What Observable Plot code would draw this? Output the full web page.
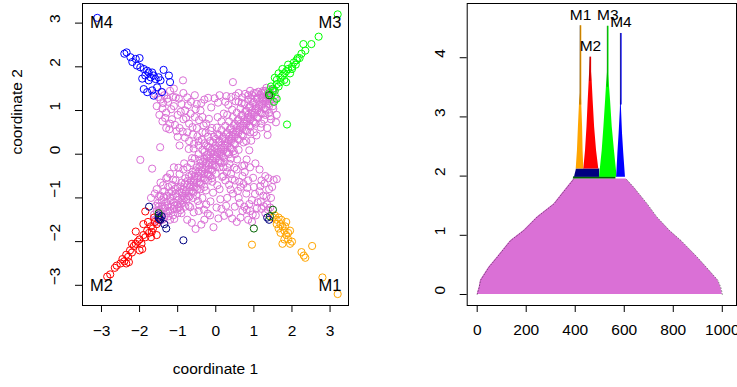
<!DOCTYPE html>
<html>
<head>
<meta charset="utf-8">
<script src="https://cdn.jsdelivr.net/npm/d3@7"></script>
<script src="https://cdn.jsdelivr.net/npm/@observablehq/plot@0.6"></script>
<style>
  html, body { margin: 0; padding: 0; background: white; }
  #wrap { position: relative; width: 737px; height: 387px; overflow: hidden; font-family: "Liberation Sans", Arial, sans-serif; }
  #wrap svg { position: absolute; top: 0; }
</style>
</head>
<body>
<div id="wrap"></div>
<script>
// ---------- Left panel: scatter (coordinate 1 vs coordinate 2) ----------
const pinkPts = [
[-1.6,-1.5],[-1.55,-1.3],[-1.5,-1.2],[-1.45,-1.35],[-1.42,-1.05],[-1.38,-1.25],[-1.35,-1.45],[-1.3,-1.1],[-1.28,-0.95],[-1.25,-1.3],[-1.2,-1.0],[-1.18,-1.2],[-1.15,-0.85],[-1.12,-1.4],[-1.1,-1.1],[-1.05,-0.9],[-1.02,-1.25],[-1.0,-0.75],[-0.98,-1.05],[-0.95,-0.85],[-0.92,-1.15],[-0.9,-0.65],[-0.88,-0.95],[-0.85,-0.8],[-0.82,-1.0],[-0.8,-0.55],[-0.78,-0.85],[-0.75,-0.7],[-0.72,-0.95],[-0.7,-0.5],[-0.68,-0.75],[-0.65,-0.6],[-0.62,-0.85],[-0.6,-0.4],[-0.58,-0.65],[-0.55,-0.5],[-0.52,-0.75],[-0.5,-0.3],[-0.48,-0.55],[-0.45,-0.4],[-0.42,-0.65],[-0.4,-0.2],[-0.38,-0.45],[-0.35,-0.3],[-0.32,-0.55],[-0.3,-0.1],[-0.28,-0.35],[-0.25,-0.2],[-0.22,-0.45],[-0.2,0.0],[-0.18,-0.25],[-0.15,-0.1],[-0.12,-0.35],[-0.1,0.1],[-0.08,-0.15],[-0.05,0.0],[-0.02,-0.25],[0.0,0.2],[0.02,-0.05],[0.05,0.1],[0.08,-0.15],[0.1,0.3],[0.12,0.05],[0.15,0.2],[0.18,-0.05],[0.2,0.4],[0.22,0.15],[0.25,0.3],[0.28,0.05],[0.3,0.5],[0.32,0.25],[0.35,0.4],[0.38,0.15],[0.4,0.6],[0.42,0.35],[0.45,0.5],[0.48,0.25],[0.5,0.7],[0.52,0.45],[0.55,0.6],[0.58,0.35],[0.6,0.8],[0.62,0.55],[0.65,0.7],[0.68,0.45],[0.7,0.9],[0.72,0.65],[0.75,0.8],[0.78,0.55],[0.8,1.0],[0.82,0.75],[0.85,0.9],[0.88,0.65],[0.9,1.1],[0.92,0.85],[0.95,1.0],[0.98,0.75],[1.0,1.2],[1.02,0.95],[1.05,1.1],[1.08,0.85],[1.1,1.3],[1.12,1.05],[1.15,1.2],[1.18,0.95],[1.2,1.4],[1.22,1.15],[1.25,1.3],[1.28,1.05],[1.3,1.45],[1.32,1.25],[1.35,1.35],[1.38,1.15],[1.42,1.4],[1.45,1.3],[1.48,1.45],
[-1.5,-1.55],[-1.4,-1.5],[-1.3,-1.35],[-1.2,-1.3],[-1.1,-1.25],[-1.0,-1.15],[-0.9,-1.05],[-0.8,-0.9],[-0.7,-0.85],[-0.6,-0.75],[-0.5,-0.65],[-0.4,-0.55],[-0.3,-0.45],[-0.2,-0.35],[-0.1,-0.25],[0.0,-0.1],[0.1,0.0],[0.2,0.1],[0.3,0.2],[0.4,0.3],[0.5,0.4],[0.6,0.5],[0.7,0.6],[0.8,0.7],[0.9,0.8],[1.0,0.9],[1.1,1.0],[1.2,1.1],[1.3,1.2],[1.4,1.3],
[-1.45,-0.95],[-1.35,-0.85],[-1.25,-0.75],[-1.15,-0.7],[-1.05,-0.6],[-0.95,-0.45],[-0.85,-0.35],[-0.75,-0.3],[-0.65,-0.2],[-0.55,-0.1],[-0.45,0.0],[-0.35,0.1],[-0.25,0.2],[-0.15,0.3],[-0.05,0.4],[0.05,0.45],[0.15,0.55],[0.25,0.65],[0.35,0.75],[0.45,0.85],[0.55,0.95],[0.65,1.05],[0.75,1.15],[0.85,1.25],[0.95,1.35],[1.05,1.4],[0.7,1.3],[0.6,1.2],[0.9,1.45],
[-1.2,-1.5],[-1.0,-1.35],[-0.8,-1.2],[-0.6,-1.0],[-0.4,-0.8],[-0.2,-0.6],[0.0,-0.45],[0.2,-0.3],[0.4,-0.1],[0.6,0.1],[0.8,0.3],[1.0,0.5],[1.2,0.7],[1.4,0.95],[1.5,1.1],[-0.5,-0.95],[-0.3,-0.75],[-0.1,-0.55],
[-1.45,1.25],[-1.4,1.05],[-1.35,1.35],[-1.3,0.95],[-1.25,1.2],[-1.2,1.45],[-1.15,0.8],[-1.1,1.1],[-1.05,1.3],[-1.0,0.9],[-0.95,0.6],[-0.9,1.15],[-0.85,0.8],[-0.8,1.0],[-0.75,0.5],[-0.7,0.7],[-0.65,1.2],[-0.6,0.45],[-0.55,0.85],[-0.5,0.6],[-0.45,0.3],[-0.4,1.0],[-0.35,0.5],[-0.3,0.25],[-0.25,0.7],[-0.2,0.4],[-0.15,0.15],[-1.48,0.9],[-1.3,0.6],[-1.0,0.4],[-0.85,1.4],[-0.55,1.35],[-0.3,1.25],[-0.2,1.29],[-1.55,1.1],[-1.2,0.7],[-0.95,0.2],[-0.7,0.3],[-0.5,1.15],[-0.35,0.85],[-0.1,0.6],[0.05,0.85],[0.1,1.35],[0.25,1.2],[-0.86,1.69],[0.45,1.65],[-1.6,1.38],[-1.4,0.75],[-1.1,1.5],[-0.75,1.3],
[0.15,-0.2],[0.2,-0.5],[0.3,-0.3],[0.35,-0.7],[0.4,-0.45],[0.45,-0.9],[0.5,-0.6],[0.55,-0.35],[0.6,-1.0],[0.65,-0.75],[0.7,-0.5],[0.75,-1.2],[0.8,-0.9],[0.85,-0.6],[0.9,-1.3],[0.95,-1.05],[1.0,-0.75],[1.05,-1.4],[1.1,-1.1],[1.15,-0.85],[1.2,-1.25],[1.25,-0.95],[1.3,-1.35],[1.35,-1.15],[1.4,-0.8],[1.45,-1.0],[0.3,-1.0],[0.1,-0.8],[-0.06,-1.67],[-0.15,-1.4],[0.15,-1.25],[0.35,-1.35],[0.55,-1.55],[0.7,-1.3],[0.85,-1.5],[0.95,-1.55],[1.52,-0.59],[1.6,-0.57],[1.3,-0.5],[1.15,-0.35],[0.9,-0.3],[0.5,-1.2],[0.25,-0.6],[0.75,-0.25],[1.2,-0.6],[0.65,-1.45],
[-1.98,-0.13],[-1.67,-0.33],[-1.46,0.16],[-0.53,-1.71],[-0.75,-1.5],[-0.45,-1.3],[-0.3,-1.5],[-0.9,-1.35],[-1.55,-0.8],[-1.7,-1.0],[-1.3,-0.55],[-1.1,-0.3],[-0.25,-1.15],[-1.45,-0.65],[-1.6,-0.9],[-1.2,-0.45],[-0.35,-1.0],
[-0.3,0.05],[0.0,0.35],[-0.15,-0.5],[0.35,0.0],[0.1,-0.3],[-0.45,0.2],[0.5,0.0],[0.3,0.9],[0.15,0.75],[0.6,1.4],[0.85,1.35],[1.0,1.4],[1.25,1.45],[1.4,1.1],[1.45,0.8],[1.3,0.9],[0.9,0.5],[1.05,0.7],[1.5,1.2],[1.55,1.35],[1.35,0.6],[1.6,0.9]
];
const pinkPts2 = [
[-1.52,-1.12],[-1.47,-1.28],[-1.41,-1.17],[-1.36,-0.98],[-1.33,-1.22],[-1.27,-1.17],[-1.23,-0.88],[-1.19,-1.07],[-1.13,-0.96],[-1.08,-1.17],[-1.06,-0.79],[-1.01,-0.97],[-0.97,-1.22],[-0.93,-0.74],[-0.89,-0.88],[-0.86,-1.11],[-0.81,-0.67],[-0.77,-1.03],[-0.74,-0.61],[-0.69,-0.97],[-0.66,-0.69],[-0.63,-0.47],[-0.59,-0.88],[-0.56,-0.58],[-0.53,-0.37],[-0.49,-0.81],[-0.46,-0.49],[-0.43,-0.29],[-0.39,-0.68],[-0.36,-0.38],[-0.33,-0.17],[-0.29,-0.59],[-0.26,-0.27],[-0.23,-0.07],[-0.19,-0.47],[-0.16,-0.19],[-0.13,0.04],[-0.09,-0.38],[-0.06,-0.08],[-0.03,0.14],[0.01,-0.29],[0.04,0.03],[0.07,0.27],[0.11,-0.18],[0.14,0.12],[0.17,0.36],[0.21,-0.08],[0.24,0.21],[0.27,0.46],[0.31,0.03],[0.34,0.32],[0.37,0.57],[0.41,0.12],[0.44,0.41],[0.47,0.66],[0.51,0.23],[0.54,0.52],[0.57,0.77],[0.61,0.33],[0.64,0.62],[0.67,0.88],[0.71,0.42],[0.74,0.71],[0.77,0.97],[0.81,0.53],[0.84,0.83],[0.87,1.07],[0.91,0.63],[0.94,0.92],[0.97,1.17],[1.01,0.73],[1.04,1.03],[1.07,1.27],[1.11,0.83],[1.14,1.12],[1.17,1.36],[1.21,0.93],[1.24,1.22],[1.27,1.41],[1.31,1.02],[1.34,1.28],[1.37,1.43],[1.41,1.21],[1.44,1.37],[1.47,1.26],
[-0.83,-0.21],[-0.71,0.12],[-0.62,-0.09],[-0.57,0.24],[-0.48,0.41],[-0.41,-0.12],[-0.37,0.33],[-0.27,0.49],[-0.21,0.17],[-0.14,0.54],[-0.07,0.27],[0.03,0.61],[0.09,0.44],[0.16,0.01],[0.23,-0.17],[0.29,-0.41],[0.36,-0.22],[0.43,-0.57],[0.49,-0.31],[0.56,-0.12],[0.62,-0.63],[0.69,-0.27],[0.76,-0.41],[0.83,-0.77],[-0.09,-0.63],[0.04,-0.71],[0.17,-0.52],[-0.26,-0.83],[-0.47,-1.07],[-0.67,-1.21],[-0.18,0.81],[-0.32,0.66],[-0.44,0.78],[-0.61,0.62],[-0.78,0.83],[-0.92,0.97],[-1.07,0.67],[-1.17,1.03],[-1.27,1.27],[-1.38,1.17],[-1.51,1.31],[-1.43,1.43],[-1.33,0.83],[-1.22,0.57],[-0.87,0.52],[-0.66,0.93],[-0.53,1.03],[-0.38,1.17],[-0.12,1.07],[0.06,1.18],[0.21,0.93],[0.33,1.13],[0.41,1.31],[0.52,1.21],[0.28,1.33],[-0.03,1.28],[-0.73,1.12],[-0.97,1.27],[-1.12,1.31],[-1.03,0.53],[-0.81,0.38],[-0.58,0.13],[-0.24,-0.02],[0.39,-0.81],[0.58,-0.84],[0.73,-0.68],[0.88,-1.14],[1.03,-0.91],[1.18,-1.08],[1.26,-1.19],[1.37,-1.27],[1.33,-0.97],[1.43,-1.22],[1.08,-1.23],[0.97,-1.38],[0.81,-1.27],[0.63,-1.12],[1.17,-0.73],[1.28,-0.67],[0.98,-0.54],[0.81,-0.12],[1.04,-0.21],[1.38,-0.55],[1.48,-0.75],
[-1.57,-1.18],[-1.62,-1.38],[-1.49,-0.97],[-1.38,-0.71],[-1.27,-0.53],[-1.12,-0.58],[-0.98,-0.31],[-1.24,-1.42],[-1.09,-1.48],[-0.93,-1.28],[-0.71,-1.18],[-0.58,-1.33],[-0.43,-1.17],[-0.31,-1.27],[-0.14,-1.08],[0.02,-1.22],[-0.07,-0.88],[0.12,-1.03],[0.27,-1.18],[-0.63,-1.57],[-0.38,-1.61],[-0.21,-1.36],[0.07,-1.47],[0.22,-1.41],[0.43,-1.47],
[0.43,1.02],[0.52,1.34],[0.68,1.17],[0.77,1.38],[0.93,1.27],[1.12,1.43],[1.21,1.28],[1.33,1.52],[1.42,1.48],[1.53,1.47],[1.57,1.27],[1.51,1.04],[1.43,0.87],[1.27,0.79],[1.18,0.61],[1.07,0.43],[0.93,0.31],[1.36,0.44],[1.58,0.73],[0.73,0.27],[0.47,0.07],[0.88,0.09]
];
const orangePts = [[3.2,-3.2],[2.8,-2.82],[2.53,-2.1],[2.31,-2.32],[2.35,-2.37],[2.25,-2.24],[0.95,-2.07],[1.55,-1.4],[1.6,-1.5],[1.65,-1.45],[1.7,-1.6],[1.65,-1.7],[1.75,-1.65],[1.8,-1.75],[1.7,-1.8],[1.85,-1.85],[1.9,-1.95],[1.8,-1.95],[1.95,-1.75],[2.0,-2.0],[1.75,-2.05],[1.85,-1.55],[1.6,-1.6],[1.95,-2.05],[1.9,-1.8],[1.5,-1.45],[1.72,-1.5],[1.82,-1.65]];
const redPts = [[-2.85,-2.8],[-2.77,-2.75],[-2.65,-2.6],[-2.6,-2.55],[-2.5,-2.5],[-2.45,-2.4],[-2.4,-2.45],[-2.35,-2.3],[-2.3,-2.35],[-2.25,-2.2],[-2.2,-2.25],[-2.15,-2.1],[-2.1,-2.05],[-2.05,-2.0],[-2.0,-1.95],[-1.95,-2.05],[-1.9,-1.85],[-1.85,-1.9],[-1.8,-1.75],[-1.75,-1.8],[-1.7,-1.65],[-1.65,-1.7],[-1.6,-1.55],[-1.55,-1.6],[-1.5,-1.5],[-2.0,-2.2],[-2.35,-2.5],[-1.7,-1.9],[-1.9,-1.6],[-1.85,-1.31],[-2.1,-1.77],[-1.93,-2.17],[-2.28,-2.47],[-1.55,-1.85],[-1.62,-1.45],[-1.78,-1.55],[-2.2,-2.05],[-1.68,-1.78]];
const greenPts = [[3.2,3.2],[2.7,2.69],[2.51,2.52],[2.3,2.52],[2.35,2.37],[1.4,1.4],[1.45,1.35],[1.5,1.5],[1.55,1.45],[1.6,1.6],[1.6,1.7],[1.65,1.55],[1.7,1.75],[1.7,1.65],[1.75,1.8],[1.8,1.85],[1.8,1.7],[1.85,1.9],[1.9,1.95],[1.95,1.85],[2.0,2.0],[2.05,2.1],[2.1,2.05],[2.15,2.2],[2.2,2.2],[2.25,2.3],[1.55,1.75],[1.65,1.85],[1.75,1.95],[1.6,1.27],[1.85,1.65],[1.45,1.55],[1.53,1.2],[1.87,0.68],[1.9,2.05],[2.0,1.95],[1.5,1.45],[2.12,2.15]];
const bluePts = [[-3.11,3.12],[-2.34,2.33],[-2.4,2.3],[-2.24,2.22],[-2.1,2.18],[-2.0,2.2],[-2.19,2.11],[-2.07,2.03],[-1.89,1.95],[-1.76,1.87],[-1.63,1.8],[-1.37,1.93],[-1.23,1.8],[-1.2,1.65],[-1.45,1.69],[-1.54,1.53],[-1.67,1.46],[-1.8,1.42],[-1.63,1.34],[-1.89,1.49],[-1.76,1.69],[-1.93,1.73],[-1.85,1.8],[-1.71,1.76],[-1.58,1.72],[-1.8,1.91],[-1.98,1.99],[-1.67,1.87],[-1.5,1.76],[-1.41,1.42]];
const navyPts = [[-1.75,-1.2],[-1.5,-1.45],[-1.45,-1.5],[-1.5,-1.4],[-1.48,-1.48],[-1.42,-1.42],[-1.3,-1.7],[-1.35,-1.6],[-0.85,-1.97],[1.4,-1.5],[1.35,-1.45]];
const darkgreenPts = [[-1.5,-1.35],[1.0,-1.7],[1.5,-1.27],[1.42,-1.42],[1.4,1.35]];
const scatterLabels = [{x: 3, y: -3, t: "M1"}, {x: -3, y: -3, t: "M2"}, {x: 3, y: 3, t: "M3"}, {x: -3, y: 3, t: "M4"}];
const scatterTicks = [-3, -2, -1, 0, 1, 2, 3];

// ---------- Right panel: cluster tree ----------
const baseY = [0, 0.05, 0.12, 0.24, 0.46, 0.63, 0.91, 1.08, 1.31, 1.53, 1.81, 1.95];
const baseL = [0, 3, 8, 13.5, 47.5, 81.5, 136, 190, 245, 313, 367, 394];
const baseR = [1000, 998, 994, 982, 935, 898, 832, 785, 733, 694, 639, 608];
const dgY = [1.95, 1.99], dgL = [392, 394], dgR = [566, 566];
const navyY = [1.98, 2.12], navyL = [397, 405], navyR = [500, 500];
const m1Y = [2.12, 2.43, 2.83, 3.28, 3.4, 4.54], m1L = [404, 409, 413, 418, 420.5, 421.5], m1R = [435, 432, 430, 426, 423.5, 422.5];
const m2Y = [2.12, 2.43, 2.83, 3.28, 3.61, 4.01], m2L = [435, 442, 448, 453, 457, 462], m2R = [496, 487, 479, 473, 469, 462];
const m3Y = [1.98, 2.43, 2.83, 3.28, 3.56, 3.75, 4.53], m3L = [499, 510, 517, 524, 528, 531.5, 532.5], m3R = [571, 560, 551, 544, 539, 535, 533.5];
const m4Y = [1.98, 2.38, 2.71, 3.11, 3.33, 4.41], m4L = [569, 574, 579, 584, 585.5, 586], m4R = [605, 598, 593, 589, 587, 586.5];
const tipNames = ["M1", "M2", "M3", "M4"];
const tipX = [422, 462, 533, 586.5];
const tipTop = [4.54, 4.01, 4.53, 4.41];
const tipLineFrom = [3.2, 3.6, 3.5, 3.2];
const treeXTicks = [0, 200, 400, 600, 800, 1000];
const treeYTicks = [0, 1, 2, 3, 4];

const C = {pink: "#DA70D6", orange: "#FFA500", red: "#FF0000", green: "#00FF00", blue: "#0000FF", navy: "#000080", darkgreen: "#006400"};
const FONT = "Liberation Sans, Arial, sans-serif";
const FS = 15.5;
const fmt = d => String(d).replace("-", "\u2212");
const pts = a => a.map(([x, y]) => ({x, y}));
const band = (Y, L, R) => Y.map((y, i) => ({y, l: L[i], r: R[i]}));
const R0 = 3.6;

const left = Plot.plot({
  width: 368, height: 387,
  marginLeft: 82, marginRight: 20, marginTop: 3, marginBottom: 82,
  x: {domain: [-3.498, 3.484]},
  y: {domain: [-3.462, 3.449]},
  style: {fontFamily: FONT, background: "transparent", overflow: "visible"},
  marks: [
    Plot.dot(pts(pinkPts), {x: "x", y: "y", r: R0, stroke: C.pink, strokeWidth: 1}),
    Plot.dot(pts(pinkPts2), {x: "x", y: "y", r: R0, stroke: C.pink, strokeWidth: 1}),
    Plot.dot(pts(orangePts), {x: "x", y: "y", r: R0, stroke: C.orange, strokeWidth: 1}),
    Plot.dot(pts(redPts), {x: "x", y: "y", r: R0, stroke: C.red, strokeWidth: 1}),
    Plot.dot(pts(greenPts), {x: "x", y: "y", r: R0, stroke: C.green, strokeWidth: 1}),
    Plot.dot(pts(bluePts), {x: "x", y: "y", r: R0, stroke: C.blue, strokeWidth: 1}),
    Plot.dot(pts(navyPts), {x: "x", y: "y", r: R0, stroke: C.navy, strokeWidth: 1}),
    Plot.dot(pts(darkgreenPts), {x: "x", y: "y", r: R0, stroke: C.darkgreen, strokeWidth: 1}),
    Plot.text(scatterLabels, {x: "x", y: "y", text: "t", fontSize: FS + 1, fill: "black"}),
    Plot.frame({stroke: "black", strokeWidth: 1}),
    Plot.axisX({ticks: scatterTicks, tickSize: 7, tickFormat: () => "", label: null, stroke: "black"}),
    Plot.axisY({ticks: scatterTicks, tickSize: 7, tickFormat: () => "", label: null, stroke: "black"}),
    Plot.text(scatterTicks, {x: d => d, frameAnchor: "bottom", dy: 30, text: fmt, fontSize: FS, fill: "black"}),
    Plot.text(scatterTicks, {y: d => d, frameAnchor: "left", dx: -27, rotate: -90, text: fmt, fontSize: FS, fill: "black"}),
    Plot.text(["coordinate 1"], {frameAnchor: "bottom", dy: 68, text: d => d, fontSize: FS, fill: "black"}),
    Plot.text(["coordinate 2"], {frameAnchor: "left", dx: -65, rotate: -90, text: d => d, fontSize: FS, fill: "black"})
  ]
});

const tips = tipNames.map((n, i) => ({n, x: tipX[i], top: tipTop[i], from: tipLineFrom[i]}));
const tipColors = [C.orange, C.red, C.green, C.blue];
const baseBand = band(baseY, baseL, baseR);

const right = Plot.plot({
  width: 369, height: 387,
  marginLeft: 98.7, marginRight: 1, marginTop: 3, marginBottom: 82,
  x: {domain: [-40.8, 1058]},
  y: {domain: [-0.186, 4.916]},
  style: {fontFamily: FONT, background: "transparent", overflow: "visible"},
  marks: [
    Plot.areaX(baseBand, {y: "y", x1: "l", x2: "r", fill: C.pink}),
    Plot.line(baseBand, {x: "l", y: "y", stroke: "black", strokeWidth: 0.7, strokeOpacity: 0.6, strokeDasharray: "1 2"}),
    Plot.line(baseBand, {x: "r", y: "y", stroke: "black", strokeWidth: 0.7, strokeOpacity: 0.6, strokeDasharray: "1 2"}),
    Plot.areaX(band(dgY, dgL, dgR), {y: "y", x1: "l", x2: "r", fill: C.darkgreen}),
    Plot.areaX(band(navyY, navyL, navyR), {y: "y", x1: "l", x2: "r", fill: C.navy}),
    Plot.areaX(band(m1Y, m1L, m1R), {y: "y", x1: "l", x2: "r", fill: C.orange}),
    Plot.areaX(band(m2Y, m2L, m2R), {y: "y", x1: "l", x2: "r", fill: C.red}),
    Plot.areaX(band(m3Y, m3L, m3R), {y: "y", x1: "l", x2: "r", fill: C.green}),
    Plot.areaX(band(m4Y, m4L, m4R), {y: "y", x1: "l", x2: "r", fill: C.blue}),
    Plot.ruleX(tips, {x: "x", y1: "from", y2: "top", stroke: (d, i) => tipColors[i], strokeWidth: 1.4}),
    Plot.ruleX(tips, {x: "x", y1: "from", y2: "top", stroke: "black", strokeWidth: 0.6, strokeOpacity: 0.7, dx: -0.6}),
    Plot.text(tips, {x: "x", y: "top", text: "n", dy: -11, fontSize: FS, fill: "black"}),
    Plot.frame({stroke: "black", strokeWidth: 1}),
    Plot.axisX({ticks: treeXTicks, tickSize: 7, tickFormat: () => "", label: null, stroke: "black"}),
    Plot.axisY({ticks: treeYTicks, tickSize: 7, tickFormat: () => "", label: null, stroke: "black"}),
    Plot.text(treeXTicks, {x: d => d, frameAnchor: "bottom", dy: 29, text: fmt, fontSize: FS, fill: "black"}),
    Plot.text(treeYTicks, {y: d => d, frameAnchor: "left", dx: -27, rotate: -90, text: fmt, fontSize: FS, fill: "black"})
  ]
});

const wrap = document.getElementById("wrap");
left.style.left = "0px";
right.style.left = "368px";
wrap.appendChild(left);
wrap.appendChild(right);
</script>
</body>
</html>
